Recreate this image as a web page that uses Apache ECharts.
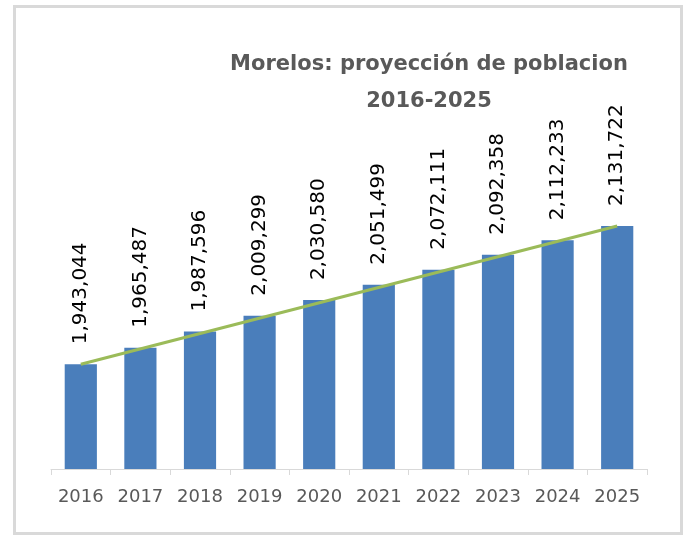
<!DOCTYPE html>
<html>
<head>
<meta charset="utf-8">
<script src="https://cdn.jsdelivr.net/npm/echarts@6/dist/echarts.min.js"></script>
<style>
html,body{margin:0;padding:0;background:#fff;}
#main{width:688px;height:536px;}
</style>
</head>
<body>
<div id="main"></div>
<script>
var years = ['2016','2017','2018','2019','2020','2021','2022','2023','2024','2025'];
var poblacion = [1943044,1965487,1987596,2009299,2030580,2051499,2072111,2092358,2112233,2131722];

var titleLines = ['Morelos: proyección de poblacion', '2016-2025'];

function fmt(v){
	return String(v).replace(/\B(?=(\d{3})+(?!\d))/g, ',');
}

var chart = echarts.init(document.getElementById('main'));
var option = {
	animation: false,
	backgroundColor: '#fff',
	title: {
		text: titleLines.join('\n'),
		left: 424,
		top: 41,
		textAlign: 'center',
		textStyle: {
			fontFamily: 'DejaVu Sans',
			fontSize: 21,
			fontWeight: 'bold',
			color: '#595959',
			lineHeight: 37
		}
	},
	graphic: [{
		type: 'rect',
		shape: {x: 14.5, y: 6.5, width: 667, height: 527},
		style: {fill: null, stroke: '#d9d9d9', lineWidth: 3},
		silent: true
	}],
	grid: {left: 51, right: 41, top: 176, bottom: 67},
	xAxis: {
		type: 'category',
		data: years,
		axisLine: {lineStyle: {color: '#d9d9d9', width: 1}},
		axisTick: {show: true, length: 6, lineStyle: {color: '#d9d9d9'}},
		axisLabel: {
			interval: 0,
			color: '#595959',
			fontFamily: 'DejaVu Sans',
			fontSize: 18,
			margin: 19
		}
	},
	yAxis: {
		type: 'value',
		min: 1800000,
		max: 2200000,
		show: false,
		splitLine: {show: false}
	},
	series: [{
		type: 'bar',
		data: poblacion,
		barWidth: '54%',
		itemStyle: {color: '#4a7ebb'},
		label: {
			show: true,
			position: 'top',
			rotate: 90,
			align: 'left',
			verticalAlign: 'middle',
			distance: 20,
			color: '#000',
			fontFamily: 'DejaVu Sans',
			fontSize: 20,
			formatter: function(p){ return fmt(p.value); }
		},
		markLine: {
			silent: true,
			symbol: ['none','none'],
			label: {show: false},
			lineStyle: {color: '#9bbb59', width: 3, type: 'solid'},
			data: [[
				{coord: [years[0], poblacion[0]]},
				{coord: [years[years.length-1], poblacion[poblacion.length-1]]}
			]]
		}
	}]
};
chart.setOption(option);
</script>
</body>
</html>
